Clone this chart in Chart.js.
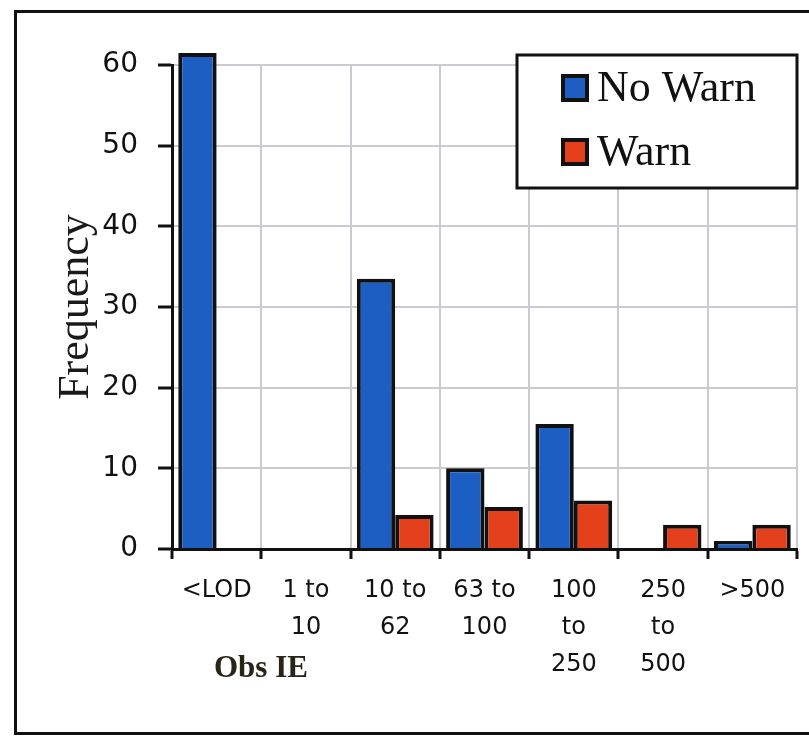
<!DOCTYPE html>
<html><head><meta charset="utf-8">
<script src="https://cdn.jsdelivr.net/npm/chart.js@4.4.1/dist/chart.umd.min.js"></script>
<style>
html,body{margin:0;padding:0;background:#fff;}
#wrap{position:relative;width:809px;height:736px;overflow:hidden;background:#fff;}
#frame{position:absolute;left:14px;top:10px;width:900px;height:719px;border-left:3px solid #111;border-top:3px solid #111;border-bottom:3px solid #111;}
canvas{position:absolute;left:0;top:0;}
</style></head><body>
<div id="wrap"><div id="frame"></div><canvas id="c" width="809" height="736"></canvas></div>
<script>
const categories = [["<LOD"],["1 to","10"],["10 to","62"],["63 to","100"],["100","to","250"],["250","to","500"],[">500"]];
const noWarn = [61.5, 0, 33.5, 10, 15.5, 0, 1];
const warn = [0, 0, 4.2, 5.2, 6, 3, 3];
const seriesNames = ["No Warn", "Warn"];
const yMin = 0, yMax = 60, yStep = 10;
const yTitle = "Frequency";
const xTitle = "Obs IE";

const boxLegend = {
  id: 'boxLegend',
  afterDraw(chart) {
    const ctx = chart.ctx;
    ctx.save();
    ctx.fillStyle = '#fff';
    ctx.fillRect(517, 55, 280, 133);
    ctx.lineWidth = 3;
    ctx.strokeStyle = '#111';
    ctx.strokeRect(517, 55, 280, 133);
    chart.data.datasets.forEach((ds, i) => {
      const cy = 88 + i * 64;
      ctx.fillStyle = ds.backgroundColor;
      ctx.fillRect(563, cy - 12, 24, 24);
      ctx.lineWidth = 4;
      ctx.strokeStyle = '#111';
      ctx.strokeRect(563, cy - 12, 24, 24);
      ctx.fillStyle = '#111';
      ctx.font = '44px "Liberation Serif"';
      ctx.textBaseline = 'alphabetic';
      ctx.textAlign = 'left';
      ctx.fillText(ds.label, 597, cy + 13);
    });
    ctx.fillStyle = '#2a2418';
    ctx.font = 'bold 31px "Liberation Serif"';
    ctx.textBaseline = 'alphabetic';
    ctx.fillText(xTitle, 214, 677);
    ctx.restore();
  }
};

new Chart(document.getElementById('c'), {
  type: 'bar',
  data: {
    labels: categories,
    datasets: [
      {label: seriesNames[0], data: noWarn, backgroundColor: '#1c5ec2', borderColor: '#111', borderWidth: 4, clip: false},
      {label: seriesNames[1], data: warn, backgroundColor: '#e4401c', borderColor: '#111', borderWidth: 4, clip: false}
    ]
  },
  options: {
    responsive: false,
    animation: false,
    devicePixelRatio: 1,
    layout: {padding: {top: 65, right: 12, left: 0, bottom: 0}},
    datasets: {bar: {categoryPercentage: 0.86, barPercentage: 1.0}},
    plugins: {legend: {display: false}, tooltip: {enabled: false}},
    scales: {
      x: {
        offset: true,
        grid: {color: '#cacad2', lineWidth: 2, tickColor: '#111', tickLength: 10, tickWidth: 3},
        border: {color: '#111', width: 3},
        ticks: {font: {family: 'DejaVu Sans', size: 24, lineHeight: 1.55}, color: '#111', padding: 13, maxRotation: 0, autoSkip: false},
        afterFit(s) { s.height = 736 - 549; }
      },
      y: {
        min: yMin, max: yMax,
        ticks: {stepSize: yStep, font: {family: 'DejaVu Sans', size: 28}, color: '#111', padding: 20},
        grid: {color: '#cacad2', lineWidth: 2, tickColor: '#111', tickLength: 14, tickWidth: 3},
        border: {color: '#111', width: 3},
        title: {display: true, text: yTitle, color: '#1a1a1a', font: {family: 'Liberation Serif', size: 44}, padding: {top: 50, bottom: 0}},
        afterFit(s) { s.width = 172; }
      }
    }
  },
  plugins: [boxLegend]
});
</script>
</body></html>
